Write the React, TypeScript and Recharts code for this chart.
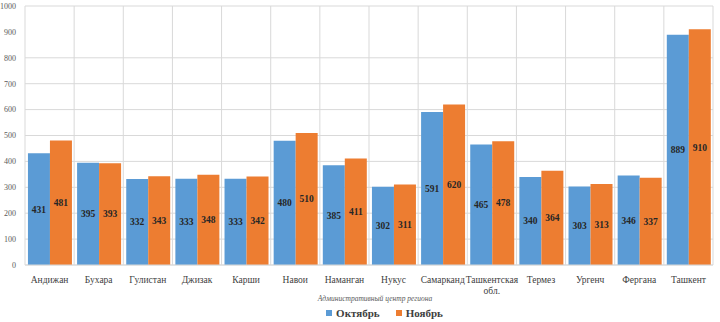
import {
  BarChart, Bar, XAxis, YAxis, CartesianGrid, Legend, LabelList,
} from "recharts";

const regions = [
  "Андижан", "Бухара", "Гулистан", "Джизак", "Карши", "Навои", "Наманган",
  "Нукус", "Самарканд", "Ташкентская обл.", "Термез", "Ургенч", "Фергана", "Ташкент",
];
const october = [431, 395, 332, 333, 333, 480, 385, 302, 591, 465, 340, 303, 346, 889];
const november = [481, 393, 343, 348, 342, 510, 411, 311, 620, 478, 364, 313, 337, 910];
const yTicks = [0, 100, 200, 300, 400, 500, 600, 700, 800, 900, 1000];

const BLUE = "#5B9BD5";
const ORANGE = "#ED7D31";
const FONT = "'Liberation Serif', serif";

const data = regions.map((name, i) => ({ name, oct: october[i], nov: november[i] }));

function RegionTick({ x, y, payload }: any) {
  const words = String(payload.value).split(" ");
  return (
    <text x={x} y={y + 10} textAnchor="middle" fontFamily={FONT} fontSize={9.5} fill="#404040">
      {words.map((l: string, i: number) => (
        <tspan key={i} x={x} dy={i === 0 ? 0 : 11}>{l}</tspan>
      ))}
    </text>
  );
}

function LegendContent() {
  const items = [
    { label: "Октябрь", color: BLUE },
    { label: "Ноябрь", color: ORANGE },
  ];
  return (
    <div style={{ display: "flex", justifyContent: "center", gap: 16, fontFamily: FONT, fontSize: 11, fontWeight: "bold", color: "#404040", paddingLeft: 56, paddingTop: 3 }}>
      {items.map((it) => (
        <div key={it.label} style={{ display: "flex", alignItems: "center", gap: 4 }}>
          <div style={{ width: 6, height: 6, background: it.color }} />
          <span>{it.label}</span>
        </div>
      ))}
    </div>
  );
}

export default function App() {
  return (
    <div style={{ position: "absolute", left: 0, top: 0, background: "#fff" }}>
      <BarChart
        width={720}
        height={322}
        data={data}
        margin={{ top: 6, right: 7, bottom: 0, left: 0 }}
        barCategoryGap="6%"
        barGap={0}
      >
        <CartesianGrid
          stroke="#d9d9d9"
          verticalCoordinatesGenerator={({ offset }: any) =>
            regions.map((_, i) => offset.left + (i * offset.width) / regions.length).concat(offset.left + offset.width)
          }
        />
        <XAxis
          dataKey="name"
          height={39}
          tickLine={false}
          axisLine={{ stroke: "#d9d9d9" }}
          tick={<RegionTick />}
          interval={0}
          label={{
            value: "Административный центр региона",
            position: "insideBottom",
            offset: 3,
            dx: 6,
            style: { fontFamily: FONT, fontSize: 7.5, fontStyle: "italic", fill: "#595959" },
          }}
        />
        <YAxis
          width={25}
          domain={[0, 1000]}
          ticks={yTicks}
          tickLine={false}
          axisLine={false}
          tick={{ fontFamily: FONT, fontSize: 8, fill: "#595959" }}
          tickMargin={3}
        />
        <Legend verticalAlign="bottom" height={18} content={<LegendContent />} />
        <Bar dataKey="oct" name="Октябрь" fill={BLUE} isAnimationActive={false}>
          <LabelList dataKey="oct" position="center" style={{ fontFamily: FONT, fontSize: 9.5, fontWeight: "bold", fill: "#262626" }} />
        </Bar>
        <Bar dataKey="nov" name="Ноябрь" fill={ORANGE} isAnimationActive={false}>
          <LabelList dataKey="nov" position="center" style={{ fontFamily: FONT, fontSize: 9.5, fontWeight: "bold", fill: "#262626" }} />
        </Bar>
      </BarChart>
    </div>
  );
}
